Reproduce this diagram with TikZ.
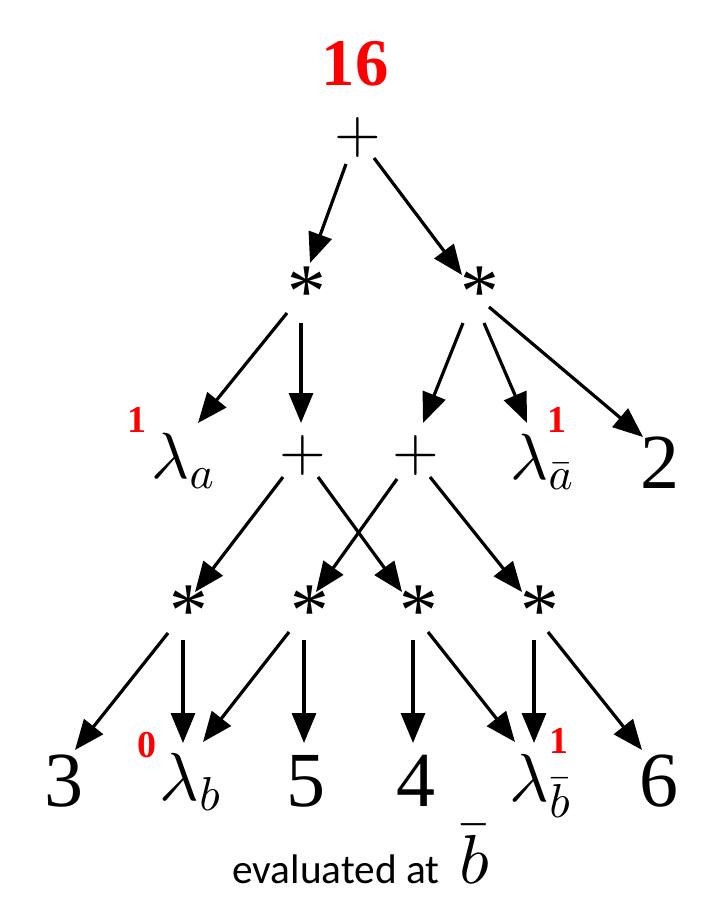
\documentclass[tikz,border=0pt]{standalone}
\usepackage{fontspec}
\DeclareFontShape{OML}{cmm}{m}{it}{<->cmmi10}{}
\DeclareFontShape{OMS}{cmsy}{m}{n}{<->cmsy10}{}
\DeclareFontShape{OT1}{cmr}{m}{n}{<->cmr10}{}
\DeclareFontShape{OMX}{cmex}{m}{n}{<->cmex10}{}
\newfontfamily\timesf{Liberation Serif}
\newfontfamily\calib{Carlito}
\usetikzlibrary{arrows.meta}
\newcommand\fs[1]{\fontsize{#1}{#1}\selectfont}
\newcommand\astr{\raisebox{0pt}[0.676em][-0.26em]{*}}
\tikzset{
  op/.style={inner sep=0pt, font=\fs{45pt}},
  mul/.style={inner sep=0pt, font=\timesf\fs{58pt}},
  num/.style={inner sep=0pt, font=\timesf\fs{58.5pt}},
  lam/.style={inner sep=0pt, font=\fs{49pt}},
  lamb/.style={inner sep=0pt, font=\fs{51pt}},
  val/.style={inner sep=0pt, text=red, font=\timesf\bfseries\fs{28.5pt}},
  total/.style={inner sep=0pt, text=red, font=\timesf\bfseries\fs{50pt}},
  arr/.style={line width=2.4pt, -{Triangle[length=22.5pt,width=18pt]}},
}
\begin{document}
\begin{tikzpicture}[x=0.75pt,y=-0.75pt]
\useasboundingbox (0,0) rectangle (727,920);
% nodes
\node[total] (v16) at (355,64) {16};
\node[op] (p0) at (358,137) {$+$};
\node[mul] (mL) at (307,291) {\astr};
\node[mul] (mR) at (480,291) {\astr};
\node[lam] (la) at (183,461) {$\lambda_a$};
\node[op] (pL) at (303,455) {$+$};
\node[op] (pR) at (416,455) {$+$};
\node[lam] (lab) at (542,462) {$\lambda_{\bar a}$};
\node[num] (two) at (660,463) {2};
\node[val] (va) at (137,420) {1};
\node[val] (vab) at (557,420) {1};
\node[mul] (s1) at (189,610) {\astr};
\node[mul] (s2) at (310,610) {\astr};
\node[mul] (s3) at (419,610) {\astr};
\node[mul] (s4) at (540,610) {\astr};
\node[num] (three) at (64,781) {3};
\node[lamb] (lb) at (190,782) {$\lambda_b$};
\node[num] (five) at (306,781) {5};
\node[num] (four) at (416,781) {4};
\node[lamb] (lbb) at (540,786) {$\lambda_{\bar b}$};
\node[num] (six) at (659,781) {6};
\node[val] (vb) at (147,745) {0};
\node[val] (vbb) at (559,741) {1};
\node[inner sep=0pt, anchor=base west, font=\calib\fs{31pt}] (cap) at (232,883) {evaluated at};
\node[inner sep=0pt, anchor=base west, font=\fs{52pt}] (capb) at (459,883) {$\bar b$};
% connectors
\draw[arr] ([shift={(-12,27)}]p0.center) -- ([shift={(3,-28)}]mL.center);
\draw[arr] ([shift={(16,21)}]p0.center) -- ([shift={(-18,-16)}]mR.center);
\draw[arr] ([shift={(-20,22)}]mL.center) -- ([shift={(15,-38)}]la.center);
\draw[arr] ([shift={(-6,32)}]mL.center) -- ([shift={(-2,-32)}]pL.center);
\draw[arr] ([shift={(-17,32)}]mR.center) -- ([shift={(7,-32)}]pR.center);
\draw[arr] ([shift={(4,32)}]mR.center) -- ([shift={(-15,-39)}]lab.center);
\draw[arr] ([shift={(9,16)}]mR.center) -- ([shift={(-17,-26)}]two.center);
\draw[arr] ([shift={(-20,22)}]pL.center) -- ([shift={(6,-18)}]s1.center);
\draw[arr] ([shift={(15,22)}]pL.center) -- ([shift={(-17,-18)}]s3.center);
\draw[arr] ([shift={(-19,24)}]pR.center) -- ([shift={(6,-18)}]s2.center);
\draw[arr] ([shift={(14,22)}]pR.center) -- ([shift={(-18,-18)}]s4.center);
\draw[arr] ([shift={(-21,23)}]s1.center) -- ([shift={(11,-31)}]three.center);
\draw[arr] ([shift={(-6,30)}]s1.center) -- ([shift={(-7,-39)}]lb.center);
\draw[arr] ([shift={(-21,22)}]s2.center) -- ([shift={(13,-40)}]lb.center);
\draw[arr] ([shift={(-6,30)}]s2.center) -- ([shift={(-2,-38)}]five.center);
\draw[arr] ([shift={(-6,30)}]s3.center) -- ([shift={(-3,-38)}]four.center);
\draw[arr] ([shift={(9,22)}]s3.center) -- ([shift={(-25,-44)}]lbb.center);
\draw[arr] ([shift={(-6,30)}]s4.center) -- ([shift={(-6,-43)}]lbb.center);
\draw[arr] ([shift={(8,22)}]s4.center) -- ([shift={(-17,-31)}]six.center);
\end{tikzpicture}
\end{document}
